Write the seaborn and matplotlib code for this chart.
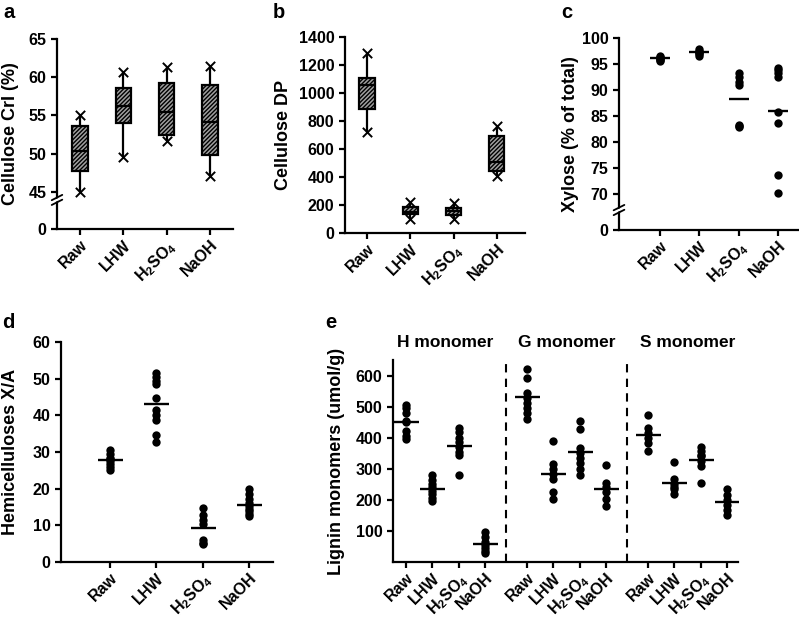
import numpy as np
import pandas as pd
import matplotlib
matplotlib.use('Agg')
import matplotlib.pyplot as plt
import seaborn as sns

# categories
treatments = ['Raw', 'LHW', 'H2SO4', 'NaOH']
tick_labels = ['Raw', 'LHW', 'H$_2$SO$_4$', 'NaOH']
monomers = ['H monomer', 'G monomer', 'S monomer']

# a: cellulose CrI (%) - min, Q1, median, Q3, max
cri_raw = [44.9, 47.7, 50.3, 53.6, 55.1]
cri_lhw = [49.6, 54.0, 56.3, 58.6, 60.7]
cri_h2so4 = [51.6, 52.4, 55.5, 59.3, 61.4]
cri_naoh = [47.1, 49.8, 54.1, 59.0, 61.5]

# b: cellulose DP - min, Q1, median, Q3, max
dp_raw = [719, 884, 1057, 1109, 1284]
dp_lhw = [100, 134, 152, 183, 224]
dp_h2so4 = [100, 129, 157, 176, 212]
dp_naoh = [410, 443, 505, 693, 764]

# c: xylose (% of total)
xyl_raw = [96.6, 96.3, 96.0, 95.8, 95.6, 96.2]
xyl_lhw = [97.8, 97.5, 97.2, 96.9, 96.6, 97.3]
xyl_h2so4 = [93.2, 92.5, 91.6, 91.0, 83.2, 83.0, 82.8]
xyl_naoh = [94.3, 93.8, 93.2, 92.5, 85.8, 83.6, 73.6, 70.2]

# d: hemicelluloses X/A
xa_raw = [30.5, 29.5, 28.5, 28.0, 27.5, 26.8, 26.0, 25.2]
xa_lhw = [51.5, 50.5, 49.5, 48.6, 44.6, 41.5, 40.1, 38.7, 34.6, 32.6]
xa_h2so4 = [14.6, 12.8, 11.4, 10.5, 6.0, 5.2, 5.0]
xa_naoh = [19.8, 18.6, 17.2, 16.0, 15.2, 14.5, 13.8, 13.0, 12.5]

# e: lignin monomers (umol/g)
h_raw = [505, 495, 480, 455, 450, 420, 405, 395]
h_lhw = [280, 265, 250, 240, 230, 220, 205, 195]
h_h2so4 = [432, 418, 400, 385, 370, 355, 345, 280]
h_naoh = [95, 80, 65, 55, 45, 35, 28]
g_raw = [621, 593, 545, 529, 512, 496, 480, 461]
g_lhw = [389, 314, 298, 282, 266, 224, 202]
g_h2so4 = [454, 427, 368, 352, 336, 320, 299, 280]
g_naoh = [312, 255, 240, 224, 203, 181]
s_raw = [472, 432, 416, 400, 384, 357]
s_lhw = [322, 267, 250, 240, 234, 218]
s_h2so4 = [371, 357, 345, 341, 325, 309, 254]
s_naoh = [234, 215, 199, 183, 167, 151]


def long_df(groups):
    rows = []
    for name, vals in zip(treatments, groups):
        rows += [(name, v) for v in vals]
    return pd.DataFrame(rows, columns=['treatment', 'value'])


df_a = long_df([cri_raw, cri_lhw, cri_h2so4, cri_naoh])
df_b = long_df([dp_raw, dp_lhw, dp_h2so4, dp_naoh])
df_c = long_df([xyl_raw, xyl_lhw, xyl_h2so4, xyl_naoh])
df_d = long_df([xa_raw, xa_lhw, xa_h2so4, xa_naoh])

e_groups = [[h_raw, h_lhw, h_h2so4, h_naoh],
            [g_raw, g_lhw, g_h2so4, g_naoh],
            [s_raw, s_lhw, s_h2so4, s_naoh]]
group_step = 4.6
rows = []
for gi, grp in enumerate(e_groups):
    for ti, vals in enumerate(grp):
        rows += [(monomers[gi], treatments[ti], gi * group_step + ti, v) for v in vals]
df_e = pd.DataFrame(rows, columns=['monomer', 'treatment', 'pos', 'value'])

sns.set_style('ticks')
plt.rcParams['font.family'] = ['Liberation Sans', 'DejaVu Sans']
plt.rcParams['font.weight'] = 'bold'
plt.rcParams['axes.labelweight'] = 'bold'
plt.rcParams['mathtext.fontset'] = 'custom'
plt.rcParams['mathtext.rm'] = 'Liberation Sans:bold'
plt.rcParams['mathtext.default'] = 'regular'
plt.rcParams['hatch.linewidth'] = 1.0
plt.rcParams['axes.linewidth'] = 1.6
plt.rcParams['xtick.major.width'] = 1.6
plt.rcParams['ytick.major.width'] = 1.6
plt.rcParams['xtick.major.size'] = 4
plt.rcParams['ytick.major.size'] = 4
plt.rcParams['xtick.labelsize'] = 11.5
plt.rcParams['ytick.labelsize'] = 11.5
plt.rcParams['axes.labelsize'] = 13
for key in ('text.color', 'axes.labelcolor', 'xtick.color', 'ytick.color', 'axes.edgecolor'):
    plt.rcParams[key] = 'black'

W, H = 799, 631
fig = plt.figure(figsize=(W / 100, H / 100), dpi=100)


def add_axes(x0, y0, x1, y1):
    return fig.add_axes([x0 / W, 1 - y1 / H, (x1 - x0) / W, (y1 - y0) / H])


ax_a = add_axes(57, 39, 233, 229)
ax_b = add_axes(345, 37, 525, 233)
ax_c = add_axes(619, 38, 798, 230)
ax_d = add_axes(61, 342, 273, 562)
ax_e = add_axes(393, 360, 738, 562)


def broken_scale(ax, low, gap):
    def fwd(y):
        y = np.asarray(y, dtype=float)
        return np.where(y < low, y * gap / low, y - low + gap)

    def inv(t):
        t = np.asarray(t, dtype=float)
        return np.where(t < gap, t * low / gap, t + low - gap)

    ax.set_yscale('function', functions=(fwd, inv))


def break_marks(ax, yfrac, dx, dy):
    for off in (-dy * 0.9, dy * 0.9):
        ax.plot([-dx, dx], [yfrac + off - dy, yfrac + off + dy], transform=ax.transAxes,
                color='black', lw=1.3, clip_on=False, zorder=10)
    ax.fill([-dx * 0.3, dx * 0.3, dx * 0.3, -dx * 0.3],
            [yfrac - dy * 0.5, yfrac + dy * 0.2, yfrac + dy * 0.5, yfrac - dy * 0.2],
            transform=ax.transAxes, color='white', clip_on=False, zorder=9)


def box_panel(ax, df):
    sns.boxplot(data=df, x='treatment', y='value', order=treatments, ax=ax,
                whis=(0, 100), width=0.35, color='#a0a0a0', linecolor='black',
                linewidth=1.6, capprops={'linewidth': 0}, showfliers=False)
    for p in ax.patches:
        p.set_hatch('////////')
        p.set_edgecolor('black')
    ext = df.groupby('treatment')['value'].agg(['min', 'max']).reindex(treatments)
    for col in ('min', 'max'):
        ax.scatter(np.arange(len(treatments)), ext[col], marker='x', s=45,
                   color='black', linewidths=1.4, zorder=5)


def dot_panel(ax, df, x='treatment', order=None, native=False, line_size=16):
    sns.stripplot(data=df, x=x, y='value', order=order, ax=ax, jitter=False,
                  color='black', size=6, native_scale=native, zorder=3)
    sns.pointplot(data=df, x=x, y='value', order=order, ax=ax, estimator='mean',
                  errorbar=None, color='black', marker='_', markersize=line_size,
                  markeredgewidth=1.7, linestyle='none', native_scale=native)


# a
box_panel(ax_a, df_a)
broken_scale(ax_a, 45, 4.84)
ax_a.set_ylim(0, 65)
ax_a.set_yticks([0, 45, 50, 55, 60, 65])
ax_a.set_xlim(-0.53, 3.53)
ax_a.set_ylabel('Cellulose CrI (%)', labelpad=7)
break_marks(ax_a, 0.153, 0.03, 0.014)

# b
box_panel(ax_b, df_b)
ax_b.set_ylim(0, 1400)
ax_b.set_yticks(np.arange(0, 1401, 200))
ax_b.set_xlim(-0.51, 3.65)
ax_b.set_ylabel('Cellulose DP', labelpad=5)

# c
dot_panel(ax_c, df_c, order=treatments, line_size=15)
broken_scale(ax_c, 70, 6.92)
ax_c.set_ylim(0, 100)
ax_c.set_yticks([0, 70, 75, 80, 85, 90, 95, 100])
ax_c.set_xlim(-1.04, 3.51)
ax_c.set_ylabel('Xylose (% of total)', labelpad=2)
break_marks(ax_c, 0.104, 0.03, 0.014)

# d
dot_panel(ax_d, df_d, order=treatments, line_size=18)
ax_d.set_ylim(0, 60)
ax_d.set_yticks(np.arange(0, 61, 10))
ax_d.set_xlim(-1.06, 3.52)
ax_d.set_ylabel('Hemicelluloses X/A', labelpad=10)

# e
dot_panel(ax_e, df_e, x='pos', native=True, line_size=18)
ax_e.set_ylim(0, 650)
ax_e.set_yticks(np.arange(100, 601, 100))
ax_e.set_xlim(-0.49, 12.62)
pos_e = [gi * group_step + ti for gi in range(3) for ti in range(4)]
ax_e.set_xticks(pos_e)
ax_e.set_xticklabels(tick_labels * 3)
ax_e.set_xlabel('')
ax_e.set_ylabel('Lignin monomers (umol/g)', labelpad=8)
for gi in range(1, 3):
    ax_e.axvline(gi * group_step - 0.8, ymax=0.99, color='black', lw=1.5, ls=(0, (4, 3)))
for gi, name in enumerate(monomers):
    ax_e.text(gi * group_step + 1.5, 1.085, name, transform=ax_e.get_xaxis_transform(),
              ha='center', va='center', fontsize=12.5, fontweight='bold')

for ax in (ax_a, ax_b, ax_c, ax_d):
    ax.set_xticks(range(4))
    ax.set_xticklabels(tick_labels)
    ax.set_xlabel('')

for ax in (ax_a, ax_b, ax_c, ax_d, ax_e):
    sns.despine(ax=ax)
    ax.tick_params(axis='x', pad=2)
    for lab in ax.get_xticklabels():
        lab.set_rotation(45)
        lab.set_ha('right')
        lab.set_va('top')
        lab.set_rotation_mode('anchor')
        lab.set_fontweight('bold')
    for lab in ax.get_yticklabels():
        lab.set_fontweight('bold')

for letter, (px, py) in zip('abcde', [(3, 18), (273, 18), (561, 18), (2, 328), (325, 328)]):
    fig.text(px / W, 1 - py / H, letter, fontsize=14.5, fontweight='bold', va='baseline')

fig.savefig('out.png', dpi=100)
